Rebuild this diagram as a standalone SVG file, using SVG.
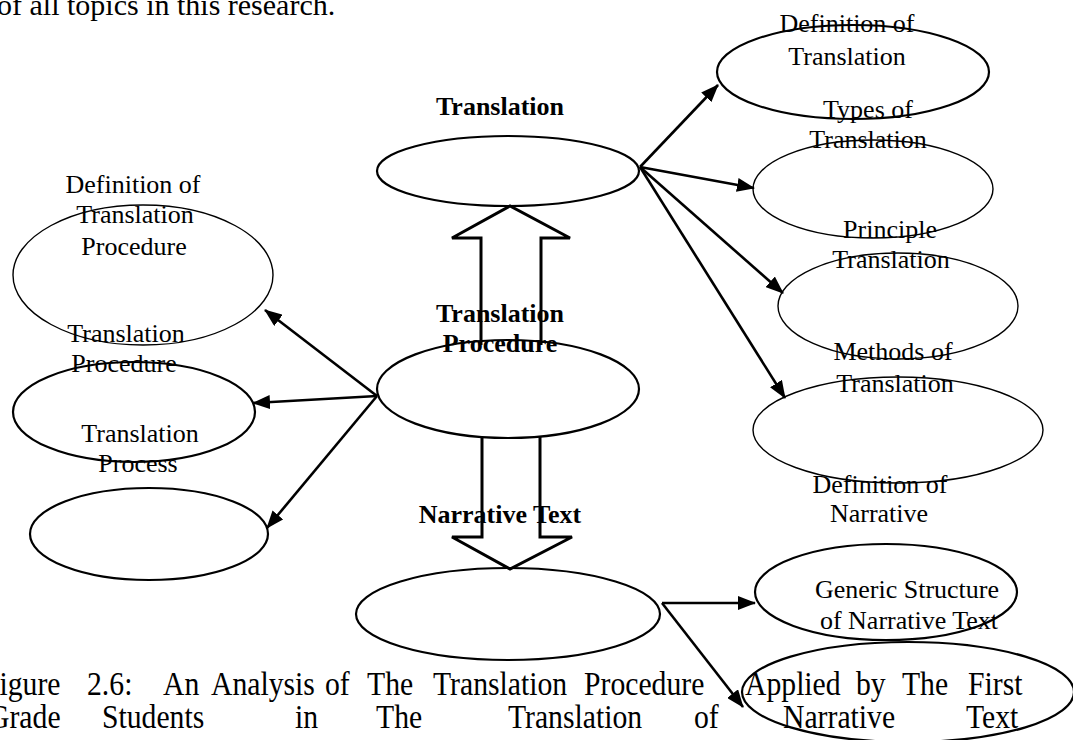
<svg xmlns="http://www.w3.org/2000/svg" width="1073" height="740" viewBox="0 0 1073 740">
<style>
.t{font-family:"Liberation Serif","Times New Roman",serif;font-size:26px;fill:#000;text-anchor:middle}
.b{font-family:"Liberation Serif","Times New Roman",serif;font-size:26px;font-weight:bold;fill:#000;text-anchor:middle}
.c{font-family:"Liberation Serif","Times New Roman",serif;font-size:33px;fill:#000}
.e{fill:none;stroke:#000;stroke-width:2.2}
.e2{fill:none;stroke:#000;stroke-width:1.4}
.a{stroke:#000;stroke-width:2.6;fill:none;marker-end:url(#ah)}
.h{fill:none;stroke:#000;stroke-width:3}
</style>
<defs>
<marker id="ah" markerUnits="userSpaceOnUse" markerWidth="18" markerHeight="14" refX="17" refY="7" orient="auto">
<path d="M0,0 L18,7 L0,14 z" fill="#000"/>
</marker>
</defs>
<rect width="1073" height="740" fill="#fff"/>
<text x="-3" y="15" font-family="Liberation Serif, Times New Roman, serif" font-size="30" fill="#000">of all topics in this research.</text>

<g id="connectors">
<path class="h" d="M481,345 V238 H452 L510,206 L570,238 H541 V345"/>
<path class="h" d="M482,437 V537 H452 L510,569 L572,537 H540 V437"/>
<line class="a" x1="640" y1="167" x2="718" y2="85"/>
<line class="a" x1="640" y1="167" x2="754" y2="188"/>
<line class="a" x1="640" y1="167" x2="783" y2="293"/>
<line class="a" x1="640" y1="167" x2="785" y2="398"/>
<line class="a" x1="377" y1="396" x2="265" y2="310"/>
<line class="a" x1="377" y1="396" x2="253" y2="403"/>
<line class="a" x1="377" y1="396" x2="267" y2="528"/>
<line class="a" x1="662" y1="603" x2="755" y2="603"/>
<line class="a" x1="662" y1="603" x2="743" y2="707"/>
</g>

<g id="translation">
<text class="b" x="500" y="115">Translation</text>
<ellipse class="e" cx="508" cy="171" rx="131" ry="35"/>
</g>
<g id="translation-procedure">
<text class="b" x="500" y="322">Translation</text>
<text class="b" x="500" y="352">Procedure</text>
<ellipse class="e" cx="508" cy="389" rx="131" ry="49"/>
</g>
<g id="narrative-text">
<text class="b" x="500" y="523">Narrative Text</text>
<ellipse class="e" cx="508" cy="614" rx="152" ry="46"/>
</g>

<g id="def-translation">
<text class="t" x="847" y="32">Definition of</text>
<text class="t" x="847" y="65">Translation</text>
<ellipse class="e" cx="853" cy="72" rx="136" ry="47"/>
</g>
<g id="types-translation">
<text class="t" x="868" y="118">Types of</text>
<text class="t" x="868" y="148">Translation</text>
<ellipse class="e2" cx="873" cy="189" rx="120" ry="49"/>
</g>
<g id="principle-translation">
<text class="t" x="890" y="238">Principle</text>
<text class="t" x="891" y="268">Translation</text>
<ellipse class="e2" cx="898" cy="306" rx="120" ry="53"/>
</g>
<g id="methods-translation">
<text class="t" x="893" y="360">Methods of</text>
<text class="t" x="895" y="392">Translation</text>
<ellipse class="e2" cx="898" cy="430" rx="145" ry="53"/>
</g>
<g id="def-narrative">
<text class="t" x="880" y="493">Definition of</text>
<text class="t" x="879" y="522">Narrative</text>
<ellipse class="e" cx="886" cy="592" rx="131" ry="48"/>
</g>
<g id="generic-structure">
<text class="t" x="907" y="598">Generic Structure</text>
<text class="t" x="909" y="629">of Narrative Text</text>
<ellipse class="e" cx="908" cy="692" rx="166" ry="50"/>
</g>

<g id="def-translation-procedure">
<text class="t" x="133" y="193">Definition of</text>
<text class="t" x="135" y="223">Translation</text>
<text class="t" x="134" y="255">Procedure</text>
<ellipse class="e2" cx="143" cy="275" rx="130" ry="70"/>
</g>
<g id="translation-procedure-left">
<text class="t" x="126" y="342">Translation</text>
<text class="t" x="124" y="372">Procedure</text>
<ellipse class="e" cx="134" cy="412" rx="121" ry="50"/>
</g>
<g id="translation-process">
<text class="t" x="140" y="442">Translation</text>
<text class="t" x="138" y="472">Process</text>
<ellipse class="e" cx="149" cy="534" rx="119" ry="46"/>
</g>

<g id="caption" transform="scale(0.9 1)">
<text class="c" y="695"><tspan x="-18.9">Figure</tspan><tspan x="96.7">2.6:</tspan><tspan x="181.1">An</tspan><tspan x="234.4">Analysis</tspan><tspan x="361.1">of</tspan><tspan x="407.8">The</tspan><tspan x="481.1">Translation</tspan><tspan x="648.9">Procedure</tspan><tspan x="827.8">Applied</tspan><tspan x="951.1">by</tspan><tspan x="1002.2">The</tspan><tspan x="1075.6">First</tspan></text>
<text class="c" y="728"><tspan x="-13.3">Grade</tspan><tspan x="113.3">Students</tspan><tspan x="327.8">in</tspan><tspan x="417.8">The</tspan><tspan x="564.4">Translation</tspan><tspan x="771.1">of</tspan><tspan x="870">Narrative</tspan><tspan x="1073.3">Text</tspan></text>
</g>
</svg>
